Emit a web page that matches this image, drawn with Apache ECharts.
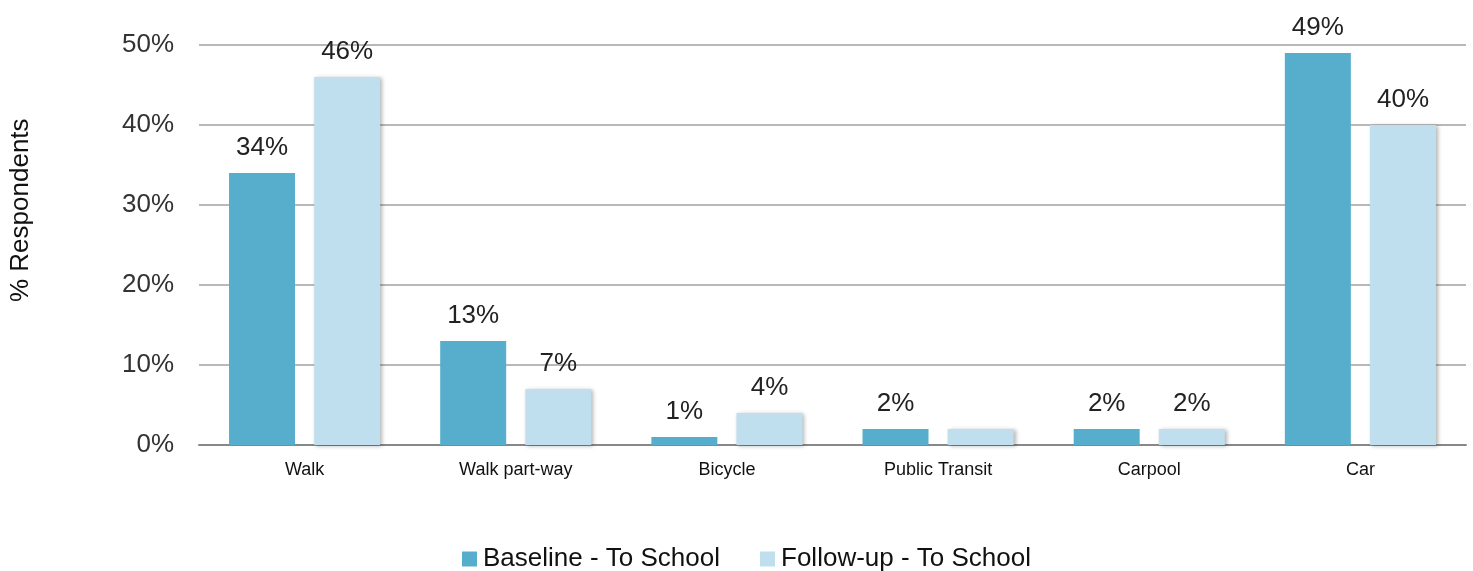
<!DOCTYPE html>
<html>
<head>
<meta charset="utf-8">
<script src="https://cdn.jsdelivr.net/npm/echarts@6/dist/echarts.min.js"></script>
<style>html,body{margin:0;padding:0;background:#fff;}#c{width:1473px;height:571px;}</style>
</head>
<body>
<div id="c"></div>
<script>
const categories = ['Walk', 'Walk part-way', 'Bicycle', 'Public Transit', 'Carpool', 'Car'];
const baseline = [34, 13, 1, 2, 2, 49];
const followup = [46, 7, 4, 2, 2, 40];
const followupLabelShown = [true, true, true, false, true, true];
const yTicks = [0, 10, 20, 30, 40, 50];
const seriesNames = ['Baseline - To School', 'Follow-up - To School'];

const FONT = '"Liberation Sans", Arial, sans-serif';
const chart = echarts.init(document.getElementById('c'));
const labelStyle = {
  show: true, position: 'top', distance: 12,
  formatter: p => p.value + '%',
  fontFamily: FONT, fontSize: 26, color: '#222'
};
chart.setOption({
  animation: false,
  textStyle: { fontFamily: FONT },
  grid: { left: 199, right: 7, top: 45, bottom: 126 },
  graphic: [{
    type: 'text', rotation: Math.PI / 2, x: 8, y: 302,
    style: { text: '% Respondents', fontFamily: FONT, fontSize: 26, fill: '#111' }
  }],
  legend: {
    top: 541, left: 457, itemWidth: 15, itemHeight: 15, itemGap: 40,
    icon: 'rect',
    textStyle: { fontFamily: FONT, fontSize: 26, color: '#111', padding: [0, 0, 0, 1] },
    data: seriesNames
  },
  xAxis: {
    type: 'category', data: categories,
    axisLine: { lineStyle: { color: '#888', width: 2 } },
    axisTick: { show: false },
    axisLabel: { fontFamily: FONT, fontSize: 18, color: '#111', margin: 16 }
  },
  yAxis: {
    type: 'value', min: 0, max: 50, interval: 10,
    axisLine: { show: false }, axisTick: { show: false },
    axisLabel: { fontFamily: FONT, fontSize: 26, color: '#333', margin: 25,
      formatter: v => yTicks.includes(v) ? v + '%' : '' },
    splitLine: { lineStyle: { color: '#a0a0a0', width: 1.5 } }
  },
  series: [
    {
      name: seriesNames[0], type: 'bar', data: baseline,
      barWidth: 66, barGap: '29%',
      itemStyle: { color: '#57aecc' },
      label: labelStyle
    },
    {
      name: seriesNames[1], type: 'bar',
      data: followup.map((v, i) => ({ value: v, label: { show: followupLabelShown[i] } })),
      barWidth: 66,
      itemStyle: { color: '#bfdfee', shadowBlur: 4, shadowColor: 'rgba(0,0,0,0.3)', shadowOffsetX: 2, shadowOffsetY: 1 },
      label: labelStyle
    }
  ]
});
</script>
</body>
</html>
